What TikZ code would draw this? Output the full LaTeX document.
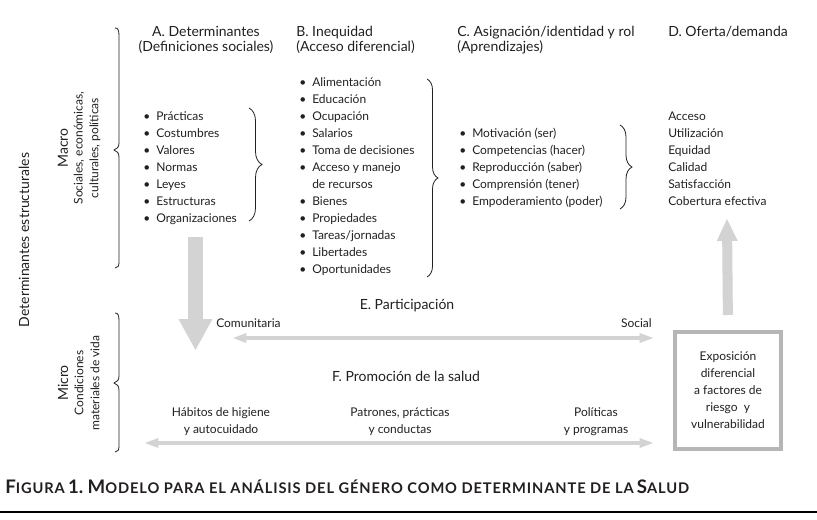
\documentclass[tikz,border=0pt]{standalone}
\usepackage{fontspec}
\setmainfont{Lato}
\usetikzlibrary{arrows.meta,decorations.pathreplacing}
\definecolor{arrgray}{HTML}{D3D3D3}
\definecolor{boxgray}{HTML}{B6B6B6}
\definecolor{ink}{HTML}{231F20}
\newcommand\bu{\llap{\textbullet\hspace{4.5pt}}}
\newcommand\capB[1]{{\fontsize{14}{14}\selectfont #1}}
\newcommand\capS[1]{{\fontsize{11}{12}\selectfont\addfontfeatures{LetterSpace=6}#1}}
\begin{document}
\begin{tikzpicture}[x=0.75pt,y=-0.75pt,
  every node/.style={inner sep=0pt,text=ink},
  head/.style={font=\fontsize{10.5}{12}\selectfont,anchor=base west},
  item/.style={font=\fontsize{9}{12}\selectfont,anchor=base west},
  lbl/.style={font=\fontsize{9}{12.75}\selectfont,align=center},
  side/.style={rotate=90,anchor=center},
  lbrace/.style={draw=ink,line width=0.6pt},
  rbrace/.style={draw=ink,line width=0.6pt,decorate,decoration={brace,amplitude=#1}},
  bigarrow/.style={draw=arrgray,line width=11.25pt,-{Triangle[length=23.25pt,width=25.5pt,line width=0pt]}},
  uparrow/.style={draw=arrgray,line width=7.5pt,-{Triangle[length=16.5pt,width=15.75pt,line width=0pt]}},
  thinarrow/.style={draw=arrgray,line width=3pt,{Triangle[length=10pt,width=7.5pt,line width=0pt]}-{Triangle[length=10pt,width=7.5pt,line width=0pt]}}]
\useasboundingbox (0,0) rectangle (817,520);

% left side labels
\node[side,font=\fontsize{10.5}{12}\selectfont] (detest) at (24,240) {Determinantes estructurales};
\node[side,font=\fontsize{10.5}{12}\selectfont] (macro1) at (63,148) {Macro};
\node[side,font=\fontsize{9}{12}\selectfont] (macro2) at (79,148) {Sociales, económicas,};
\node[side,font=\fontsize{9}{12}\selectfont] (macro3) at (95,148) {culturales, políticas};
\node[side,font=\fontsize{10.5}{12}\selectfont] (micro1) at (63,383) {Micro};
\node[side,font=\fontsize{9}{12}\selectfont] (micro2) at (79,383) {Condiciones};
\node[side,font=\fontsize{9}{12}\selectfont] (micro3) at (95,383) {materiales de vida};

% left braces
\draw[lbrace] (115,28) .. controls (118,28) and (119,30) .. (119,36) -- (119,143)
  .. controls (119,147) and (117,149) .. (114,150)
  .. controls (117,151) and (119,153) .. (119,157) -- (119,262)
  .. controls (119,266) and (118,268) .. (115,268);
\draw[lbrace] (115,313) .. controls (118,313) and (119,315) .. (119,321) -- (119,376)
  .. controls (119,380) and (117,382) .. (114,383)
  .. controls (117,384) and (119,386) .. (119,390) -- (119,446)
  .. controls (119,450) and (118,452) .. (115,452);

% headers
\node[head,anchor=base] (hA1) at (206,37) {A. Determinantes};
\node[head,anchor=base] (hA2) at (206,52) {(Definiciones sociales)};
\node[head] (hB1) at (296,37) {B. Inequidad};
\node[head] (hB2) at (296,52) {(Acceso diferencial)};
\node[head] (hC1) at (457,37) {C. Asignación/identidad y rol};
\node[head] (hC2) at (457,52) {(Aprendizajes)};
\node[head] (hD1) at (668,37) {D. Oferta/demanda};

% lists
\foreach \t [count=\i from 0] in {Prácticas,Costumbres,Valores,Normas,Leyes,Estructuras,Organizaciones}
  \node[item] (a\i) at (156,{120.7+17*\i}) {\bu\t};
\foreach \t/\b [count=\i from 0] in {Alimentación/1,Educación/1,Ocupación/1,Salarios/1,Toma de decisiones/1,Acceso y manejo/1,de recursos/0,Bienes/1,Propiedades/1,{Tareas/jornadas}/1,Libertades/1,Oportunidades/1}
  \node[item] (b\i) at (312,{86.7+17*\i}) {\ifnum\b=1 \bu\fi\t};
\foreach \t [count=\i from 0] in {Motivación (ser),Competencias (hacer),Reproducción (saber),Comprensión (tener),Empoderamiento (poder)}
  \node[item] (c\i) at (472,{137.7+17*\i}) {\bu\t};
\foreach \t [count=\i from 0] in {Acceso,Utilización,Equidad,Calidad,Satisfacción,Cobertura efectiva}
  \node[item] (d\i) at (668,{120.7+17*\i}) {\t};

% list braces
\draw[rbrace=9.75pt] (249,108) -- (249,221);
\draw[rbrace=8.25pt] (427,79) -- (427,277);
\draw[rbrace=9pt] (620,125) -- (620,209);

% big arrows
\coordinate (dTop) at (195.5,237);
\coordinate (dTip) at (195.5,350);
\draw[bigarrow] (dTop) -- (dTip);

\node[draw=boxgray,line width=3pt,minimum width=79.5pt,minimum height=87.75pt,
  font=\fontsize{9}{12.75}\selectfont,align=center] (box) at (728,390.5)
  {Exposición\\diferencial\\a factores de\\riesgo~ y\\vulnerabilidad};
\coordinate (upTip) at (727,219);
\draw[uparrow,shorten <=11.25pt] (box.north) -- (upTip);

% E
\node[font=\fontsize{10.5}{12}\selectfont,anchor=base] (E) at (407,309) {E. Participación};
\node[item] (comu) at (216,327) {Comunitaria};
\node[item,anchor=base east] (soc) at (652,327) {Social};
\coordinate (eL) at (233,338);
\coordinate (eR) at (653,338);
\draw[thinarrow] (eL) -- (eR);

% F
\node[font=\fontsize{10.5}{12}\selectfont,anchor=base] (F) at (406,381) {F. Promoción de la salud};
\node[lbl,anchor=base] (f1) at (221,433) {Hábitos de higiene\\y autocuidado};
\node[lbl,anchor=base] (f2) at (400,433) {Patrones, prácticas\\y conductas};
\node[lbl,anchor=base] (f3) at (596,433) {Políticas\\y programas};
\coordinate (fL) at (145,443);
\coordinate (fR) at (653,443);
\draw[thinarrow] (fL) -- (fR);

% caption
\node[anchor=base west,font=\bfseries] (cap) at (5,493)
  {\capB{F}\capS{IGURA} \capB{1.} \capB{M}\capS{ODELO PARA EL ANÁLISIS DEL GÉNERO COMO DETERMINANTE DE LA} \capB{S}\capS{ALUD}};
\draw[line width=0.9pt,black] (0,512) -- (817,512);
\end{tikzpicture}
\end{document}
